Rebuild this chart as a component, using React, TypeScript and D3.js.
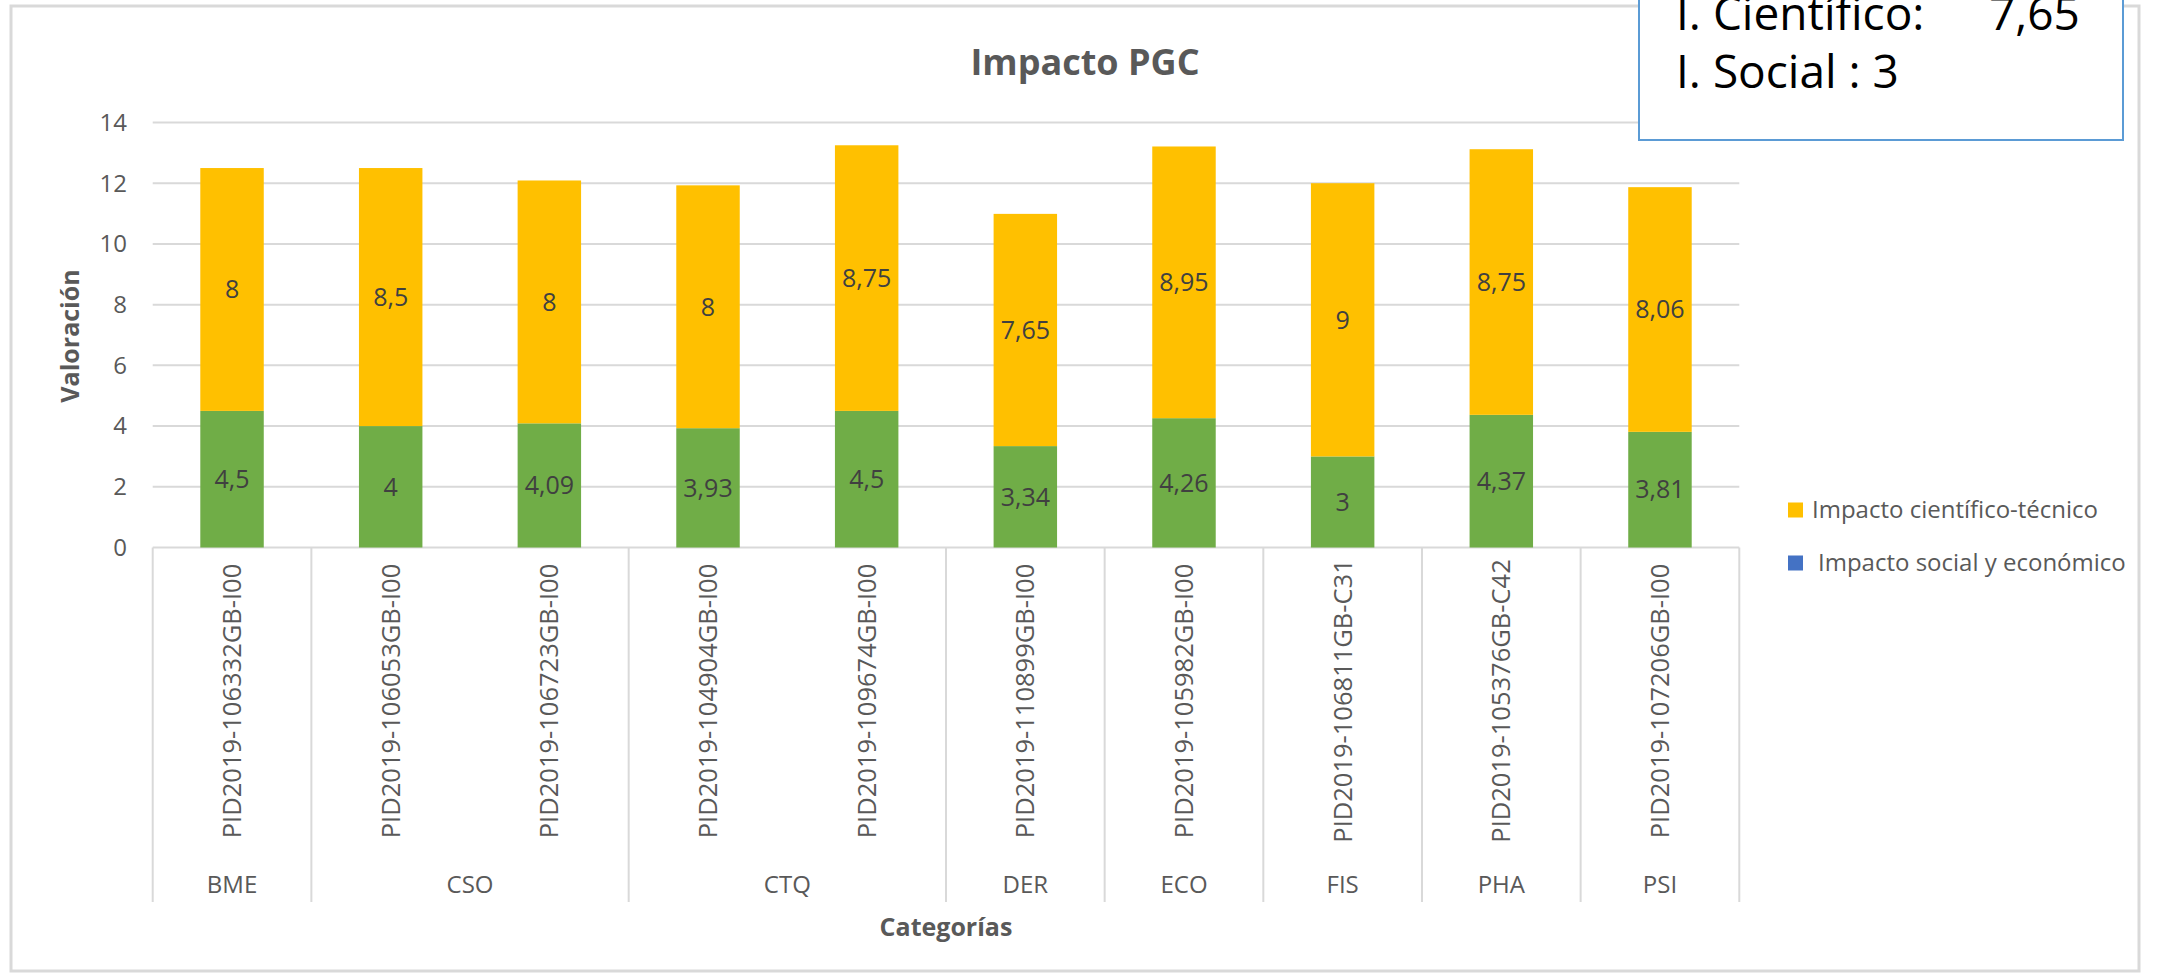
import * as React from 'react';
import * as d3 from 'd3';

// chart values
const projects = [
  'PID2019-106332GB-I00',
  'PID2019-106053GB-I00',
  'PID2019-106723GB-I00',
  'PID2019-104904GB-I00',
  'PID2019-109674GB-I00',
  'PID2019-110899GB-I00',
  'PID2019-105982GB-I00',
  'PID2019-106811GB-C31',
  'PID2019-105376GB-C42',
  'PID2019-107206GB-I00'
];
const areas = ['BME', 'CSO', 'CSO', 'CTQ', 'CTQ', 'DER', 'ECO', 'FIS', 'PHA', 'PSI'];
const impactoSocial = [4.5, 4, 4.09, 3.93, 4.5, 3.34, 4.26, 3, 4.37, 3.81];
const impactoCientifico = [8, 8.5, 8, 8, 8.75, 7.65, 8.95, 9, 8.75, 8.06];
const yTicks = [0, 2, 4, 6, 8, 10, 12, 14];
const legendLabels = ['Impacto científico-técnico', 'Impacto social y económico'];

const W = 2167;
const H = 979;
const FONT = '"Open Sans", "Noto Sans", sans-serif';

const fmt = v => String(v).replace('.', ',');

const App = () => {
  const nodeRef = React.useRef(null);

  React.useEffect(() => {
    const svg = d3.select(nodeRef.current);
    svg.selectAll('*').remove();

    const margin = { top: 122.5, left: 152.7, right: 1739.3, bottom: 547.5 };

    const x = d3
      .scaleBand()
      .domain(projects)
      .range([margin.left, margin.right])
      .paddingInner(0.6)
      .paddingOuter(0.3);
    const y = d3.scaleLinear().domain([0, 14]).range([margin.bottom, margin.top]);

    // outer chart frame
    svg
      .append('rect')
      .attr('x', 11)
      .attr('y', 6)
      .attr('width', 2139 - 11)
      .attr('height', 971 - 6)
      .attr('fill', '#fff')
      .attr('stroke', '#d9d9d9')
      .attr('stroke-width', 3);

    // gridlines
    svg
      .append('g')
      .selectAll('line')
      .data(yTicks)
      .enter()
      .append('line')
      .attr('x1', margin.left)
      .attr('x2', margin.right)
      .attr('y1', d => y(d))
      .attr('y2', d => y(d))
      .attr('stroke', '#d9d9d9')
      .attr('stroke-width', 2);

    svg
      .append('g')
      .selectAll('text')
      .data(yTicks)
      .enter()
      .append('text')
      .attr('x', 127)
      .attr('y', d => y(d))
      .attr('dy', '0.35em')
      .attr('text-anchor', 'end')
      .attr('font-family', FONT)
      .attr('font-size', 24)
      .attr('fill', '#595959')
      .text(d => d);

    // stacked bars
    const rows = projects.map((p, i) => ({
      p,
      social: impactoSocial[i],
      cientifico: impactoCientifico[i]
    }));
    const stack = d3.stack().keys(['social', 'cientifico'])(rows);
    const colors = { social: '#70ad47', cientifico: '#ffc000' };

    stack.forEach(layer => {
      const g = svg.append('g');
      g.selectAll('rect')
        .data(layer)
        .enter()
        .append('rect')
        .attr('x', d => x(d.data.p))
        .attr('width', x.bandwidth())
        .attr('y', d => y(d[1]))
        .attr('height', d => y(d[0]) - y(d[1]))
        .attr('fill', colors[layer.key]);
      g.selectAll('text')
        .data(layer)
        .enter()
        .append('text')
        .attr('x', d => x(d.data.p) + x.bandwidth() / 2)
        .attr('y', d => y((d[0] + d[1]) / 2))
        .attr('dy', '0.35em')
        .attr('text-anchor', 'middle')
        .attr('font-family', FONT)
        .attr('font-size', 25)
        .attr('fill', '#404040')
        .text(d => fmt(d.data[layer.key]));
    });

    // multi-level category axis
    const step = x.step();
    const groups = [];
    areas.forEach((a, i) => {
      const last = groups[groups.length - 1];
      if (last && last.name === a) last.end = i;
      else groups.push({ name: a, start: i, end: i });
    });
    const edge = i => margin.left + i * step;
    const sepY2 = 902;

    const bounds = [0].concat(groups.map(g => g.end + 1));
    svg
      .append('g')
      .selectAll('line')
      .data(bounds)
      .enter()
      .append('line')
      .attr('x1', d => edge(d))
      .attr('x2', d => edge(d))
      .attr('y1', margin.bottom)
      .attr('y2', sepY2)
      .attr('stroke', '#d9d9d9')
      .attr('stroke-width', 2);

    svg
      .append('g')
      .selectAll('text')
      .data(projects)
      .enter()
      .append('text')
      .attr(
        'transform',
        d => 'translate(' + (x(d) + x.bandwidth() / 2) + ',701) rotate(-90)'
      )
      .attr('dy', '0.35em')
      .attr('text-anchor', 'middle')
      .attr('font-family', FONT)
      .attr('font-size', 25.5)
      .attr('fill', '#595959')
      .text(d => d);

    svg
      .append('g')
      .selectAll('text')
      .data(groups)
      .enter()
      .append('text')
      .attr('x', d => (edge(d.start) + edge(d.end + 1)) / 2)
      .attr('y', 885)
      .attr('dy', '0.35em')
      .attr('text-anchor', 'middle')
      .attr('font-family', FONT)
      .attr('font-size', 24)
      .attr('fill', '#595959')
      .text(d => d.name);

    // titles
    svg
      .append('text')
      .attr('x', 1085)
      .attr('y', 62)
      .attr('dy', '0.35em')
      .attr('text-anchor', 'middle')
      .attr('font-family', FONT)
      .attr('font-size', 36)
      .attr('font-weight', 'bold')
      .attr('fill', '#595959')
      .text('Impacto PGC');

    svg
      .append('text')
      .attr('transform', 'translate(70,336) rotate(-90)')
      .attr('dy', '0.35em')
      .attr('text-anchor', 'middle')
      .attr('font-family', FONT)
      .attr('font-size', 25)
      .attr('font-weight', 'bold')
      .attr('fill', '#595959')
      .text('Valoración');

    svg
      .append('text')
      .attr('x', (margin.left + margin.right) / 2)
      .attr('y', 927)
      .attr('dy', '0.35em')
      .attr('text-anchor', 'middle')
      .attr('font-family', FONT)
      .attr('font-size', 25)
      .attr('font-weight', 'bold')
      .attr('fill', '#595959')
      .text('Categorías');

    // legend (colours as in the original, the social swatch is blue)
    const legendColors = ['#ffc000', '#4472c4'];
    const lg = svg.append('g');
    legendLabels.forEach((l, i) => {
      const cy = 510 + i * 53;
      lg.append('rect')
        .attr('x', 1788)
        .attr('y', cy - 7.5)
        .attr('width', 15)
        .attr('height', 15)
        .attr('fill', legendColors[i]);
      lg.append('text')
        .attr('x', i === 0 ? 1812 : 1818)
        .attr('y', cy)
        .attr('dy', '0.35em')
        .attr('font-family', FONT)
        .attr('font-size', 24)
        .attr('fill', '#595959')
        .text(l);
    });

    // note box in the top right corner
    const box = svg.append('g');
    box
      .append('rect')
      .attr('x', 1639)
      .attr('y', -60)
      .attr('width', 2123 - 1639)
      .attr('height', 140 + 60)
      .attr('fill', '#fff')
      .attr('stroke', '#5b9bd5')
      .attr('stroke-width', 2);
    box
      .append('text')
      .attr('x', 1676)
      .attr('y', 30)
      .attr('font-family', FONT)
      .attr('font-size', 46)
      .attr('fill', '#000')
      .text('I. Científico:');
    box
      .append('text')
      .attr('x', 1989)
      .attr('y', 30)
      .attr('font-family', FONT)
      .attr('font-size', 46)
      .attr('fill', '#000')
      .text(fmt(7.65));
    box
      .append('text')
      .attr('x', 1676)
      .attr('y', 88)
      .attr('font-family', FONT)
      .attr('font-size', 46)
      .attr('fill', '#000')
      .text('I. Social : ' + fmt(3));
  }, []);

  return (
    <svg
      ref={nodeRef}
      width={W}
      height={H}
      style={{ position: 'absolute', left: 0, top: 0, background: '#fff' }}
    />
  );
};

export default App;
